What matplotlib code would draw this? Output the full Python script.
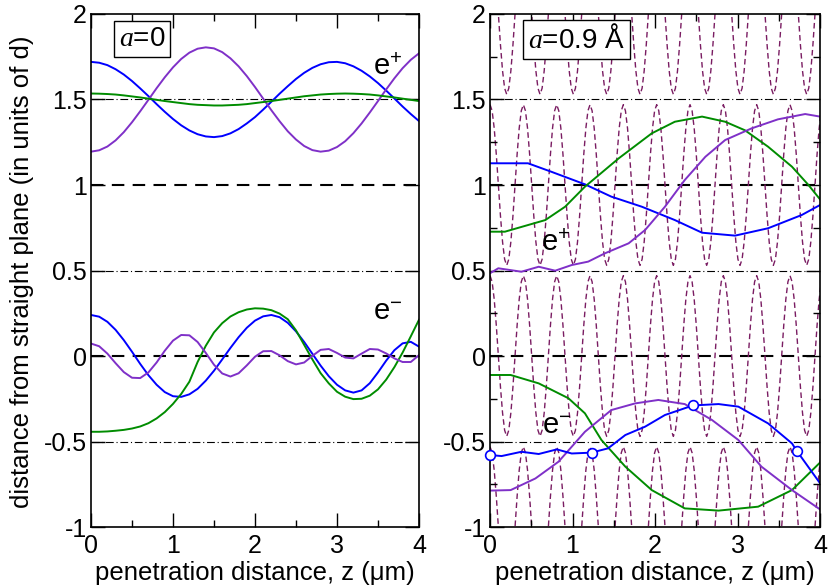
import numpy as np
import matplotlib
matplotlib.use('Agg')
import matplotlib.pyplot as plt
from matplotlib.ticker import MultipleLocator, FuncFormatter

plt.rcParams['font.family'] = ['Liberation Sans', 'DejaVu Sans'] # Arial-like font
plt.rcParams['mathtext.fontset'] = 'custom' # italic serif "a" like the original
plt.rcParams['mathtext.it'] = 'Liberation Serif:italic'
plt.rcParams['mathtext.rm'] = 'Liberation Sans'

# ---- left panel (a=0), sampled every 0.1 um ----
z_left = [0.0, 0.1, 0.2, 0.3, 0.4, 0.5, 0.6, 0.7, 0.8, 0.9, 1.0, 1.1, 1.2, 1.3, 1.4, 1.5, 1.6, 1.7, 1.8, 1.9, 2.0,
          2.1, 2.2, 2.3, 2.4, 2.5, 2.6, 2.7, 2.8, 2.9, 3.0, 3.1, 3.2, 3.3, 3.4, 3.5, 3.6, 3.7, 3.8, 3.9, 4.0]
pos0_blue = [1.720, 1.715, 1.701, 1.677, 1.646, 1.608, 1.565, 1.520, 1.473, 1.428, 1.386,
             1.349, 1.319, 1.297, 1.284, 1.280, 1.286, 1.302, 1.327, 1.360, 1.397,
             1.441, 1.487, 1.534, 1.578, 1.620, 1.656, 1.685, 1.706, 1.718, 1.720,
             1.712, 1.694, 1.668, 1.635, 1.596, 1.552, 1.506, 1.459, 1.415, 1.374]
pos0_purple = [1.195, 1.203, 1.225, 1.261, 1.309, 1.367, 1.431, 1.498, 1.566, 1.630, 1.688,
               1.737, 1.774, 1.797, 1.805, 1.799, 1.777, 1.741, 1.694, 1.637, 1.573,
               1.505, 1.437, 1.373, 1.314, 1.266, 1.228, 1.204, 1.195, 1.201, 1.222,
               1.256, 1.303, 1.360, 1.424, 1.491, 1.559, 1.624, 1.683, 1.732, 1.770]
pos0_green = [1.535, 1.534, 1.532, 1.529, 1.524, 1.518, 1.512, 1.505, 1.498, 1.491, 1.485,
              1.479, 1.473, 1.469, 1.467, 1.465, 1.465, 1.467, 1.469, 1.473, 1.479,
              1.485, 1.491, 1.498, 1.505, 1.512, 1.519, 1.524, 1.529, 1.532, 1.534,
              1.535, 1.534, 1.532, 1.529, 1.524, 1.518, 1.512, 1.505, 1.498, 1.491]
neg0_blue = [0.240, 0.230, 0.200, 0.153, 0.093, 0.025, -0.046, -0.112, -0.168, -0.211, -0.235,
             -0.239, -0.224, -0.192, -0.144, -0.086, -0.020, 0.047, 0.110, 0.165, 0.207,
             0.232, 0.240, 0.227, 0.194, 0.144, 0.082, 0.013, -0.056, -0.118, -0.168,
             -0.201, -0.214, -0.201, -0.159, -0.096, -0.027, 0.034, 0.074, 0.083, 0.055]
neg0_green = [-0.443, -0.443, -0.441, -0.437, -0.432, -0.424, -0.412, -0.393, -0.365, -0.328, -0.280,
              -0.222, -0.150, -0.035, 0.060, 0.138, 0.192, 0.231, 0.256, 0.272, 0.279,
              0.277, 0.268, 0.248, 0.215, 0.150, 0.065, -0.020, -0.100, -0.160, -0.209,
              -0.238, -0.252, -0.250, -0.232, -0.195, -0.138, -0.065, 0.020, 0.115, 0.212]
neg0_purple = [0.073, 0.057, 0.014, -0.042, -0.094, -0.127, -0.129, -0.096, -0.038, 0.031, 0.090,
               0.123, 0.121, 0.082, 0.018, -0.051, -0.102, -0.120, -0.101, -0.055, -0.004,
               0.028, 0.029, 0.004, -0.030, -0.049, -0.038, 0.001, 0.036, 0.041, 0.018,
               -0.009, -0.014, 0.014, 0.041, 0.038, 0.015, -0.014, -0.035, -0.035, 0.005]

# ---- right panel (a=0.9 A) ----
pos_blue_z = [0, 0.46, 0.74, 1.15, 1.47, 1.84, 2.24, 2.57, 2.97, 3.37, 3.78, 4.0]
pos_blue_y = [1.127, 1.127, 1.078, 1.004, 0.932, 0.873, 0.795, 0.721, 0.704, 0.747, 0.825, 0.883]
pos_green_z = [0, 0.18, 0.67, 0.91, 1.15, 1.56, 1.96, 2.24, 2.57, 2.85, 3.09, 3.37, 3.66, 3.86, 4.0]
pos_green_y = [0.727, 0.727, 0.795, 0.873, 0.99, 1.156, 1.302, 1.37, 1.40, 1.37, 1.32, 1.224, 1.107, 1.0, 0.916]
pos_purple_z = [0, 0.1, 0.38, 0.59, 0.79, 0.99, 1.19, 1.39, 1.68, 1.88, 2.12, 2.36, 2.61, 2.85, 3.17, 3.49, 3.82, 4.0]
pos_purple_y = [0.484, 0.513, 0.493, 0.522, 0.499, 0.532, 0.552, 0.60, 0.659, 0.737, 0.873, 1.029,
                1.165, 1.263, 1.331, 1.384, 1.415, 1.40]
neg_green_z = [0, 0.25, 0.59, 0.95, 1.15, 1.35, 1.64, 1.96, 2.36, 2.77, 3.25, 3.66, 4.0]
neg_green_y = [-0.111, -0.111, -0.16, -0.247, -0.335, -0.491, -0.647, -0.784, -0.891, -0.904, -0.881, -0.784, -0.623]
neg_purple_z = [0, 0.25, 0.55, 0.83, 1.15, 1.47, 1.76, 2.04, 2.36, 2.69, 3.01, 3.29, 3.66, 4.0]
neg_purple_y = [-0.787, -0.784, -0.716, -0.618, -0.443, -0.316, -0.277, -0.257, -0.281, -0.374, -0.491,
                -0.647, -0.784, -0.897]
neg_blue_z = [0, 0.14, 0.38, 0.59, 0.81, 0.99, 1.23, 1.43, 1.64, 1.88, 2.12, 2.46, 2.77, 3.01, 3.37, 3.66, 3.72, 4.0]
neg_blue_y = [-0.579, -0.585, -0.56, -0.573, -0.546, -0.57, -0.565, -0.54, -0.462, -0.413, -0.345, -0.289,
              -0.281, -0.296, -0.394, -0.511, -0.556, -0.744]
mark_z = [0, 1.23, 2.46, 3.72] # open circles on the blue e- curve
mark_y = [-0.579, -0.565, -0.289, -0.556]

# bent crystal planes: one period of the profile (in units of d)
plane_rows = [-1, 0, 1, 2]
bend_period = 0.404 # um
plane_profile = [0.47, 0.434, 0.332, 0.18, 0.0, -0.18, -0.332, -0.434,
                 -0.47, -0.434, -0.332, -0.18, 0.0, 0.18, 0.332, 0.434]

BLUE = '#0000ff'
GREEN = '#008c00'
PURPLE = '#7f30c8'
MAROON = '#7a1c62'


def style_axes(ax): # ticks, limits and reference lines shared by both panels
    ax.set_xlim(0, 4)
    ax.set_ylim(-1, 2)
    ax.xaxis.set_major_locator(MultipleLocator(1))
    ax.xaxis.set_minor_locator(MultipleLocator(0.5))
    ax.yaxis.set_major_locator(MultipleLocator(0.5))
    ax.yaxis.set_major_formatter(FuncFormatter(lambda v, p: '%g' % v))
    ax.tick_params(which='both', direction='in', top=True, right=True, labelsize=18, width=1)
    ax.tick_params(which='major', length=10)
    ax.tick_params(which='minor', length=5)
    ax.tick_params(axis='y', pad=3)
    ax.tick_params(axis='x', pad=5)
    for s in ax.spines.values():
        s.set_linewidth(1.2)
    for y in [0, 1]:
        ax.axhline(y, color='black', lw=1.5, dashes=(6, 4), zorder=1)
    for y in [-0.5, 0.5, 1.5]:
        ax.axhline(y, color='black', lw=0.8, dashes=(7, 2.5, 1, 2.5), zorder=1)
    ax.set_xlabel('penetration distance, z (\u03bcm)', fontsize=18.5, labelpad=2)


fig = plt.figure(figsize=(8.31, 5.88), dpi=100)
ax1 = fig.add_axes([0.1095, 0.1037, 0.3947, 0.8725])
ax2 = fig.add_axes([0.5897, 0.1037, 0.3971, 0.8725])

# left panel
style_axes(ax1)
ax1.plot(z_left, pos0_blue, color=BLUE, lw=1.4)
ax1.plot(z_left, pos0_purple, color=PURPLE, lw=1.4)
ax1.plot(z_left, pos0_green, color=GREEN, lw=1.4)
ax1.plot(z_left, neg0_blue, color=BLUE, lw=1.4)
ax1.plot(z_left, neg0_green, color=GREEN, lw=1.4)
ax1.plot(z_left, neg0_purple, color=PURPLE, lw=1.4)
ax1.set_ylabel('distance from straight plane (in units of d)', fontsize=18.5)
ax1.yaxis.set_label_coords(-0.175, 0.497)
ax1.text(0.155, 0.951, '$a$=0', transform=ax1.transAxes, fontsize=20, ha='center', va='center',
         bbox=dict(boxstyle='square,pad=0.18', fc='white', ec='black', lw=1))
ax1.text(3.44, 1.69, 'e$^{+}$', fontsize=21, ha='left', va='center')
ax1.text(3.44, 0.26, 'e$^{-}$', fontsize=21, ha='left', va='center')

# right panel
style_axes(ax2)
ax2.yaxis.set_minor_locator(MultipleLocator(0.25))
n_rep = int(np.ceil(4.0 / bend_period)) + 1
plane_z = np.arange(n_rep * len(plane_profile) + 1) * bend_period / len(plane_profile)
plane_shape = np.array(list(plane_profile) * n_rep + [plane_profile[0]])
for row in plane_rows:
    ax2.plot(plane_z, row + plane_shape, color=MAROON, lw=1.0, dashes=(4, 2.5), zorder=1.5)
ax2.plot(pos_blue_z, pos_blue_y, color=BLUE, lw=1.4)
ax2.plot(pos_green_z, pos_green_y, color=GREEN, lw=1.4)
ax2.plot(pos_purple_z, pos_purple_y, color=PURPLE, lw=1.4)
ax2.plot(neg_green_z, neg_green_y, color=GREEN, lw=1.4)
ax2.plot(neg_purple_z, neg_purple_y, color=PURPLE, lw=1.4)
ax2.plot(neg_blue_z, neg_blue_y, color=BLUE, lw=1.4)
ax2.plot(mark_z, mark_y, 'o', ms=7, mfc='white', mec=BLUE, mew=1.2, clip_on=False, zorder=5)
ax2.text(0.262, 0.951, '$a$=0.9 \u00c5', transform=ax2.transAxes, fontsize=20, ha='center', va='center',
         bbox=dict(boxstyle='square,pad=0.18', fc='white', ec='black', lw=1))
ax2.text(0.62, 0.66, 'e$^{+}$', fontsize=21, ha='left', va='center')
ax2.text(0.63, -0.41, 'e$^{-}$', fontsize=21, ha='left', va='center')

fig.savefig('out.png', dpi=100)
